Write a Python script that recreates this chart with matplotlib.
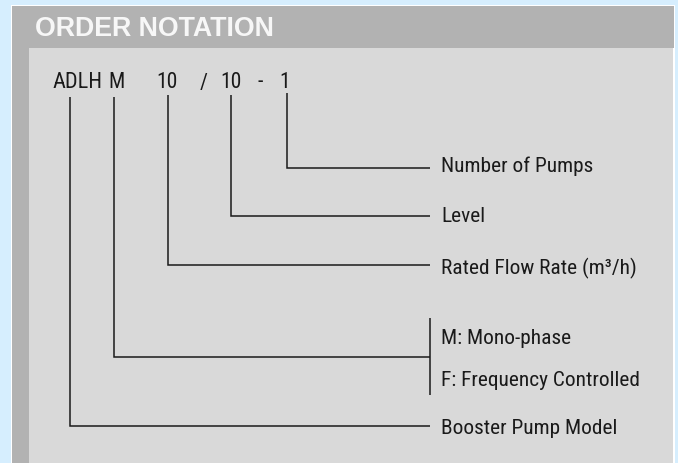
import matplotlib
matplotlib.use("Agg")
import matplotlib.pyplot as plt
from matplotlib import font_manager as fm
from matplotlib.patches import Rectangle

# ---- content ----
title = "ORDER NOTATION"
code_parts = ["ADLH", "M", "10", "/", "10", "-", "1"]
descriptions = [
    "Number of Pumps",
    "Level",
    "Rated Flow Rate (m\u00b3/h)",
    "M: Mono-phase",
    "F: Frequency Controlled",
    "Booster Pump Model",
]

# ---- font selection ----
names = {f.name for f in fm.fontManager.ttflist}
cond_family = "Roboto Condensed" if "Roboto Condensed" in names else "DejaVu Sans"
cond = dict(family=[cond_family, "DejaVu Sans"])

W, H = 678, 463
fig = plt.figure(figsize=(W / 100, H / 100), dpi=100)
fig.patch.set_facecolor("#D6EEFE")
ax = fig.add_axes([0, 0, 1, 1])
ax.set_xlim(0, W)
ax.set_ylim(H, 0)
ax.axis("off")

# panel
ax.add_patch(Rectangle((10.5, 4.5), 664, 470, facecolor="white", edgecolor="none"))
ax.add_patch(Rectangle((12, 6), 662, 42, facecolor="#B2B2B2", edgecolor="none"))
ax.add_patch(Rectangle((12, 48), 17, 420, facecolor="#B2B2B2", edgecolor="none"))
ax.add_patch(Rectangle((29, 48), 644, 420, facecolor="#D9D9D9", edgecolor="none"))

ax.text(35, 36.5, title, color="#F7F7F7", fontsize=19.3, fontweight="bold",
        family="Liberation Sans", va="baseline", ha="left")

# code string
code_x = [52, 108, 166.5, 203.5, 231, 260.5, 285]
code_ha = ["left", "left", "center", "center", "center", "center", "center"]
code_fs = [16, 15.5, 15.5, 15.5, 15.5, 15.5, 15.5]
for s, x, ha, fs in zip(code_parts, code_x, code_ha, code_fs):
    ax.text(x, 88.5, s, fontsize=fs, color="#1A1A1A", va="baseline", ha=ha, **cond)

lc = "#1A1A1A"
lw = 1.1
xe = 430
# connectors: (x of code, top y, level y)
conn = [(286.7, 93, 167.7), (230.7, 95, 215.7), (167.7, 95, 265.3),
        (113.7, 97, 356.7), (70, 97, 425.5)]
for x, yt, yl in conn:
    ax.plot([x, x, xe], [yt, yl, yl], color=lc, lw=lw, solid_joinstyle="miter",
            solid_capstyle="butt")
# bracket for M / F
ax.plot([xe, xe], [318, 395], color=lc, lw=lw, solid_capstyle="butt")

label_y = [171.5, 222, 274, 344, 386, 434]
for s, y in zip(descriptions, label_y):
    ax.text(441, y, s, fontsize=15.4, color="#1A1A1A", va="baseline", ha="left", **cond)

fig.savefig("out.png", dpi=100, facecolor=fig.get_facecolor())
